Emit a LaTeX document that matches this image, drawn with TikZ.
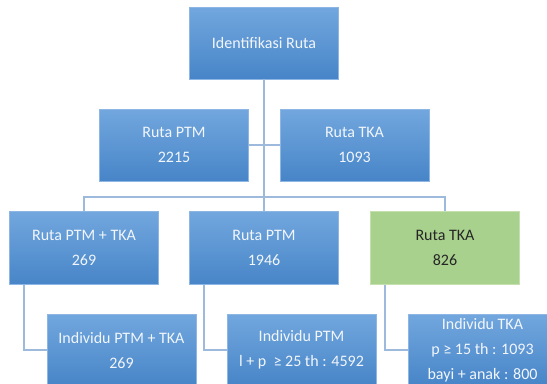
\documentclass[tikz,border=0pt]{standalone}
\usepackage{fontspec}
\setmainfont{Carlito}
\definecolor{bluetop}{HTML}{72A7DE}
\definecolor{bluebot}{HTML}{4785C8}
\definecolor{boxedge}{HTML}{8DB6E4}
\definecolor{greenfill}{HTML}{A9D18E}
\definecolor{greenedge}{HTML}{C3E0AE}
\definecolor{linkcol}{HTML}{9DBADD}
\definecolor{lighttext}{HTML}{F2F6FB}
\tikzset{
  orgbox/.style={rectangle, draw=boxedge, line width=0.5pt,
    top color=bluetop, bottom color=bluebot, text=lighttext,
    minimum width=111.5pt, minimum height=54pt, inner sep=0pt,
    align=center, font=\fontsize{12}{18.75}\selectfont},
  greenbox/.style={orgbox, top color=greenfill, bottom color=greenfill,
    draw=greenedge, text=black!85},
  link/.style={draw=linkcol, line width=1.4pt}
}
\begin{document}
\begin{tikzpicture}[x=0.75pt, y=-0.75pt]
  \useasboundingbox (0,0) rectangle (547,383);
  \clip (0,0) rectangle (547,383);

  % top level
  \node[orgbox] (root) at (264,43) {Identifikasi Ruta};

  % second level
  \node[orgbox] (ptm) at (174,145) {Ruta PTM\\2215};
  \node[orgbox] (tka) at (354.5,145) {Ruta TKA\\1093};

  % third level
  \node[orgbox, minimum height=55pt] (both) at (84,248) {Ruta PTM + TKA\\269};
  \node[orgbox, minimum height=55pt] (ptmonly) at (264,248) {Ruta PTM\\1946};
  \node[greenbox, minimum height=55pt] (tkaonly) at (445,248) {Ruta TKA\\826};

  % fourth level
  \node[orgbox] (indboth) at (121.5,350) {Individu PTM + TKA\\269};
  \node[orgbox] (indptm) at (301.5,350) {Individu PTM\\l + p ~≥ 25 th : 4592};
  \node[orgbox] (indtka) at (482.5,350) {Individu TKA\\p ≥ 15 th : 1093\\bayi + anak : 800};

  % connectors
  \coordinate (bar) at (264,197);
  \draw[link] (root.south) -- (bar);
  \draw[link] (ptm.east) -- (tka.west);
  \draw[link] (both.north) |- (bar) -| (tkaonly.north);
  \draw[link] (bar) -- (ptmonly.north);
  \draw[link] ([xshift=11.25pt]both.south west) |- (indboth.west);
  \draw[link] ([xshift=11.25pt]ptmonly.south west) |- (indptm.west);
  \draw[link] ([xshift=11.25pt]tkaonly.south west) |- (indtka.west);
\end{tikzpicture}
\end{document}
